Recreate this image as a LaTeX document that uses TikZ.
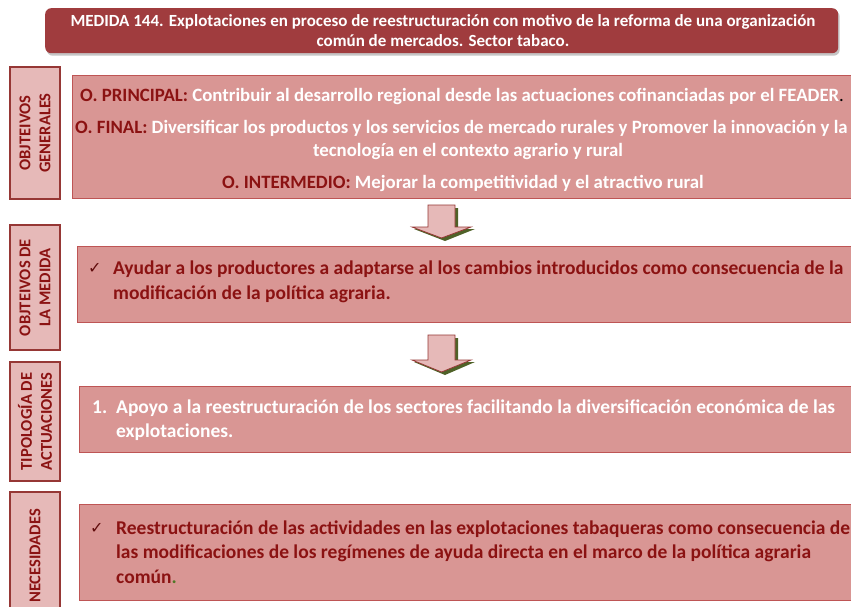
\documentclass[tikz,border=0pt]{standalone}
\usepackage{fontspec}
\setmainfont{Carlito}
\newfontfamily\symfont{DejaVu Sans}
\usetikzlibrary{shadows}
\definecolor{titlered}{RGB}{160,60,62}
\definecolor{boxfill}{RGB}{217,150,148}
\definecolor{boxborder}{RGB}{190,85,85}
\definecolor{labelfill}{RGB}{230,185,184}
\definecolor{labelborder}{RGB}{150,55,53}
\definecolor{darktext}{RGB}{139,18,18}
\definecolor{shadowgreen}{RGB}{79,98,40}
\definecolor{dotgreen}{RGB}{80,120,40}
\newcommand{\bodyfont}{\fontsize{19.5}{24}\selectfont\bfseries}
\newcommand{\topfont}{\fontsize{18.8}{23}\selectfont\bfseries}
\tikzset{
  titlebox/.style={fill=titlered, rounded corners=6pt, drop shadow={shadow xshift=1.5pt, shadow yshift=-2.5pt, opacity=0.45}},
  mainbox/.style={draw=boxborder, line width=1.1pt, fill=boxfill, inner sep=0pt},
  labelbox/.style={draw=labelborder, line width=2.4pt, fill=labelfill, inner sep=0pt, rotate=90, align=center,
                   font=\fontsize{16.5}{20}\selectfont\bfseries, text=darktext, minimum height=50pt},
  wtext/.style={text=white, font=\bodyfont, inner sep=0pt},
  rtext/.style={text=darktext, font=\bodyfont, inner sep=0pt},
  toptext/.style={font=\topfont, inner sep=0pt},
  checkmark/.style={text=darktext!70!black, font=\symfont\fontsize{16}{16}\selectfont, inner sep=0pt},
  arrowshape/.style={fill=labelfill, draw=labelborder, line width=0.8pt},
  arrowshadow/.style={fill=shadowgreen}
}
\begin{document}
\begin{tikzpicture}[x=1pt,y=-1pt]
\clip (0,0) rectangle (851,607);
\fill[white] (0,0) rectangle (851,607);

% title
\node[titlebox, minimum width=793pt, minimum height=45pt, anchor=north west] (title) at (45,8) {};
\node[text=white, font=\fontsize{17}{20}\selectfont\bfseries, align=center, inner sep=0pt, anchor=center] (titletext) at (443,31)
  {MEDIDA 144. Explotaciones en proceso de reestructuración con motivo de la reforma de una organización\\común de mercados. Sector tabaco.};

% label boxes
\node[labelbox, minimum width=132pt] (l1) at (35,133) {OBJTEIVOS\\GENERALES};
\node[labelbox, minimum width=125pt] (l2) at (35,287.5) {OBJTEIVOS DE\\LA MEDIDA};
\node[labelbox, minimum width=119pt] (l3) at (35,421.5) {TIPOLOGÍA DE\\ACTUACIONES};
\node[labelbox, minimum width=128pt] (l4) at (35,556) {NECESIDADES};

% main boxes
\node[mainbox, minimum width=788pt, minimum height=123pt, anchor=north west] (b1) at (72,75) {};
\node[mainbox, minimum width=783pt, minimum height=76pt, anchor=north west] (b2) at (77,246) {};
\node[mainbox, minimum width=781pt, minimum height=66pt, anchor=north west] (b3) at (79,386) {};
\node[mainbox, minimum width=781pt, minimum height=96pt, anchor=north west] (b4) at (79,504) {};

% box 1 text
\node[toptext, anchor=base west] (p1) at (80,102) {\textcolor{darktext}{O. PRINCIPAL:} \textcolor{white}{Contribuir al desarrollo regional desde las actuaciones cofinanciadas por el FEADER}\textcolor{black}{\mdseries .}};
\node[toptext, anchor=base west] (p2) at (75,134) {\textcolor{darktext}{O. FINAL:} \textcolor{white}{Diversificar los productos y los servicios de mercado rurales y Promover la innovación y la}};
\node[toptext, text=white, anchor=base] (p3) at (468,157) {tecnología en el contexto agrario y rural};
\node[toptext, anchor=base] (p4) at (463,188) {\textcolor{darktext}{O. INTERMEDIO:} \textcolor{white}{Mejorar la competitividad y el atractivo rural}};

% box 2 text
\node[checkmark, anchor=base west] (c2) at (88,273) {✓};
\node[rtext, anchor=base west] (t2a) at (113,274) {Ayudar a los productores a adaptarse al los cambios introducidos como consecuencia de la};
\node[rtext, anchor=base west] (t2b) at (113,299) {modificación de la política agraria.};

% box 3 text
\node[wtext, anchor=base west] (n3) at (92,413) {1.};
\node[wtext, anchor=base west] (t3a) at (116,413) {Apoyo a la reestructuración de los sectores facilitando la diversificación económica de las};
\node[wtext, anchor=base west] (t3b) at (116,437) {explotaciones.};

% box 4 text
\node[checkmark, anchor=base west] (c4) at (90,533) {✓};
\node[rtext, anchor=base west] (t4a) at (116,534) {Reestructuración de las actividades en las explotaciones tabaqueras como consecuencia de};
\node[rtext, anchor=base west] (t4b) at (116,558) {las modificaciones de los regímenes de ayuda directa en el marco de la política agraria};
\node[rtext, anchor=base west] (t4c) at (116,583) {común\textcolor{dotgreen}{.}};

% arrows
\foreach \yt/\yh/\ytip in {205/227/238, 335/360/372} {
  \fill[arrowshadow] (431,\yt+3) -- (458,\yt+3) -- (458,\yh+2) -- (475,\yh+2) -- (445,\ytip+3) -- (414,\yh+2) -- (431,\yh+2) -- cycle;
  \draw[arrowshape] (428,\yt) -- (455,\yt) -- (455,\yh) -- (471,\yh) -- (441.5,\ytip) -- (412,\yh) -- (428,\yh) -- cycle;
}
\end{tikzpicture}
\end{document}
